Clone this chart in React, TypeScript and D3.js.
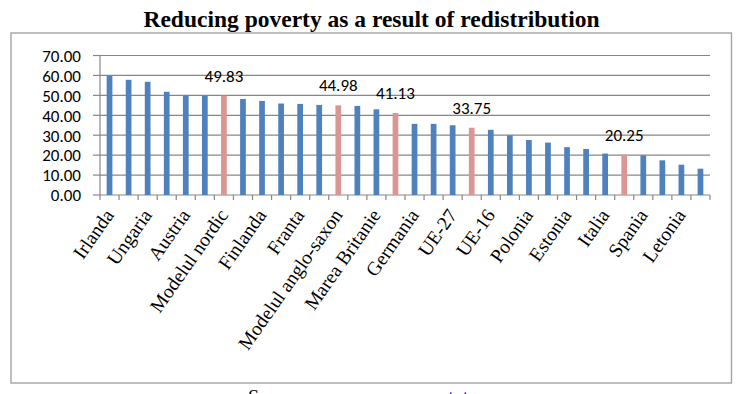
import React from "react";
import * as d3 from "d3";

const categories = [
  "Irlanda", "Suedia", "Ungaria", "Danemarca", "Austria", "Luxemburg", "Modelul nordic", "Cehia",
  "Finlanda", "Olanda", "Franta", "Belgia", "Modelul anglo-saxon", "Slovenia", "Marea Britanie",
  "Modelul continental", "Germania", "Slovacia", "UE-27", "Modelul central-est european", "UE-16",
  "Lituania", "Polonia", "Malta", "Estonia", "Portugalia", "Italia", "Modelul mediteranean",
  "Spania", "Grecia", "Letonia", "Bulgaria",
];
const values = [
  59.8, 57.8, 56.8, 51.8, 49.9, 49.9, 49.83, 48.2,
  47.2, 45.9, 45.7, 45.2, 44.98, 44.7, 43.0,
  41.13, 35.7, 35.7, 35.0, 33.75, 32.7,
  30.0, 27.6, 26.3, 24.0, 23.1, 20.8, 20.25,
  19.9, 17.4, 15.2, 13.2,
];
const isModel = [
  false, false, false, false, false, false, true, false,
  false, false, false, false, true, false, false,
  true, false, false, false, true, false,
  false, false, false, false, false, false, true,
  false, false, false, false,
];
const yTicks = [0, 10, 20, 30, 40, 50, 60, 70];
const title = "Reducing poverty as a result of redistribution";

export default function App() {
  const W = 750, H = 394;
  const left = 100, right = 710, top = 55.5, bottom = 195;
  const x = d3.scaleBand<string>().domain(categories).range([left, right]).padding(0);
  const y = d3.scaleLinear().domain([0, 70]).range([bottom, top]);
  const bw = x.bandwidth();
  const barW = bw * 0.3;
  const fmt = d3.format(".2f");
  const sans = "Carlito, Calibri, 'Open Sans', sans-serif";
  const serif = "'Liberation Serif', 'Times New Roman', serif";
  const grid = "#878787";
  const labelY = 211.5;

  return (
    <svg width={W} height={H} style={{ position: "absolute", left: 0, top: 0, background: "#fff" }}>
      <text x={371.5} y={27} textAnchor="middle" fontFamily={serif} fontWeight="bold" fontSize={23.5}>
        {title}
      </text>
      <rect x={11} y={33} width={720.5} height={350} fill="none" stroke="#a3a3a3" strokeWidth={1.4} />
      {yTicks.map((t) => (
        <g key={t}>
          <line x1={left} x2={right} y1={y(t)} y2={y(t)} stroke={grid} strokeWidth={1.2} />
          <line x1={left - 7} x2={left} y1={y(t)} y2={y(t)} stroke={grid} strokeWidth={1.2} />
          <text x={81} y={y(t) + 6.3} textAnchor="end" fontFamily={sans} fontSize={17} fill="#000">
            {fmt(t)}
          </text>
        </g>
      ))}
      <line x1={left} x2={left} y1={top} y2={bottom} stroke={grid} strokeWidth={1.2} />
      {categories.map((c, i) => (
        <line key={"t" + i} x1={x(c)!} x2={x(c)!} y1={bottom} y2={bottom + 5} stroke={grid} strokeWidth={1.2} />
      ))}
      <line x1={right} x2={right} y1={bottom} y2={bottom + 5} stroke={grid} strokeWidth={1.2} />
      {categories.map((c, i) => (
        <rect
          key={"b" + i}
          x={x(c)! + bw / 2 - barW / 2}
          y={y(values[i])}
          width={barW}
          height={bottom - y(values[i])}
          fill={isModel[i] ? "#D99694" : "#4F81BD"}
        />
      ))}
      {categories.map((c, i) =>
        isModel[i] ? (
          <text key={"v" + i} x={x(c)! + bw / 2} y={y(values[i]) - 14} textAnchor="middle" fontFamily={sans} fontSize={17}>
            {fmt(values[i])}
          </text>
        ) : null
      )}
      {categories.map((c, i) =>
        i % 2 === 0 ? (
          <text
            key={"l" + i}
            transform={`translate(${x(c)! + bw / 2},${labelY}) rotate(-55)`}
            textAnchor="end"
            dy="0.32em"
            fontFamily={serif}
            fontSize={19.5}
          >
            {c}
          </text>
        ) : null
      )}
      <text x={248} y={404} fontFamily={serif} fontSize={20}>
        Source:
        <tspan x={405} fill="#0000cc">eurostat</tspan>
      </text>
    </svg>
  );
}
